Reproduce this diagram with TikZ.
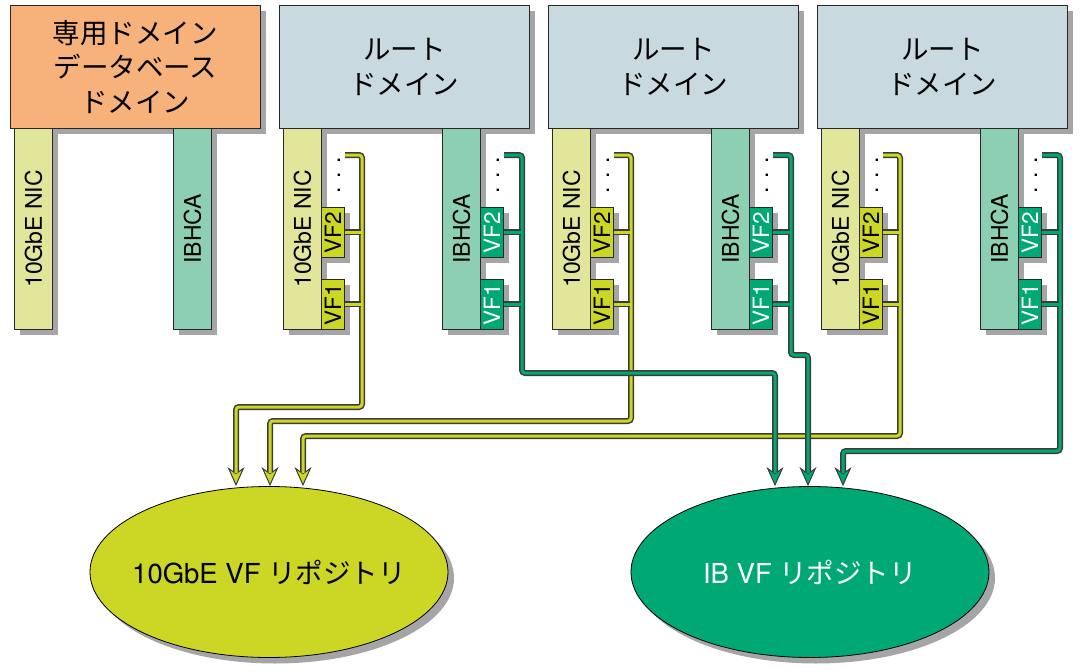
\documentclass[tikz,border=0pt]{standalone}
\usepackage{fontspec}
\setmainfont{TeX Gyre Heros}
\newfontfamily\jpfont{Noto Sans CJK JP}
\usetikzlibrary{arrows.meta,shapes.geometric,shadows}

\definecolor{edge}{RGB}{40,40,40}
\definecolor{shade}{RGB}{165,165,167}
\definecolor{ownfill}{RGB}{246,178,122}
\definecolor{rootfill}{RGB}{201,217,224}
\definecolor{nicfill}{RGB}{225,230,155}
\definecolor{hcafill}{RGB}{140,207,178}
\definecolor{vfy}{RGB}{204,214,36}
\definecolor{vfg}{RGB}{0,168,116}
\definecolor{linedark}{RGB}{60,60,60}

\tikzset{
  box/.style={draw=edge, line width=0.8pt, inner sep=0pt, anchor=north west,
    drop shadow={shadow xshift=6pt, shadow yshift=-6pt, fill=shade, opacity=1}},
  dombox/.style={box, minimum width=250pt, minimum height=123pt, align=center,
    font=\jpfont\fontsize{27.5}{34.5}\selectfont},
  bar/.style={box, minimum width=38pt, minimum height=201pt,
    font=\fontsize{23}{23}\selectfont},
  vfbox/.style={box, minimum width=23pt, minimum height=50pt,
    font=\fontsize{22.5}{22.5}\selectfont},
  dots/.style={rotate=90, inner sep=0pt, font=\fontsize{23}{23}\selectfont},
  repo/.style={ellipse, draw=black, line width=0.8pt, inner sep=0pt,
    minimum width=358pt, minimum height=171pt, font=\fontsize{27.5}{27.5}\selectfont,
    drop shadow={shadow xshift=6pt, shadow yshift=-6pt, fill=shade, opacity=1}},
  link/.style={draw=#1, line width=3pt, rounded corners=3pt, shorten >=13pt,
    preaction={draw=linedark, line width=6pt, shorten >=0pt,
      -{Stealth[length=19pt, width=17pt, inset=6pt, line width=1pt, fill=#1]}}},
  stub/.style={draw=#1, line width=3pt,
    preaction={draw=linedark, line width=6pt}}
}

\begin{document}
\begin{tikzpicture}[x=1pt, y=-1pt]
    \useasboundingbox (0,0) rectangle (1080,672);

    % Dominio dedicado
    \node[dombox, fill=ownfill] (dom0) at (10,5) {専用ドメイン\\データベース\\ドメイン};
    \node[bar, fill=nicfill] (nic0) at (14,128) {\rotatebox{90}{10GbE NIC}};
    \node[bar, fill=hcafill] (hca0) at (173,128) {\rotatebox{90}{IBHCA}};

    % Dominios raiz
    \foreach \i/\L in {1/279, 2/548, 3/817} {
        \node[dombox, fill=rootfill] (dom\i) at (\L,5) {ルート\\ドメイン};
        \node[bar, fill=nicfill] (nic\i) at (\L+4,128) {\rotatebox{90}{10GbE NIC}};
        \node[vfbox, fill=vfy] (nvf2\i) at (\L+42,207) {\rotatebox{90}{VF2}};
        \node[vfbox, fill=vfy] (nvf1\i) at (\L+42,279) {\rotatebox{90}{VF1}};
        \node[dots] (ndot\i) at (\L+60,175) {. . .};
        \node[bar, fill=hcafill] (hca\i) at (\L+163,128) {\rotatebox{90}{IBHCA}};
        \node[vfbox, fill=vfg, text=white] (hvf2\i) at (\L+201,207) {\rotatebox{90}{VF2}};
        \node[vfbox, fill=vfg, text=white] (hvf1\i) at (\L+201,279) {\rotatebox{90}{VF1}};
        \node[dots] (hdot\i) at (\L+219,175) {. . .};
        \coordinate (ny\i) at (\L+66,155);
        \coordinate (yb\i) at (\L+83,155);
        \coordinate (ng\i) at (\L+225,155);
        \coordinate (gb\i) at (\L+243,155);
    }

    % Repositorios
    \node[repo, fill=vfy] (r10) at (269,572) {\makebox[0pt]{10GbE VF {\jpfont リポジトリ}}};
    \node[repo, fill=vfg, text=white] (rib) at (810,572) {\makebox[0pt]{IB VF {\jpfont リポジトリ}}};

    % Enlaces 10GbE
    \foreach \i/\yy/\yx in {1/407/236, 2/421/270, 3/436/303} {
        \draw[link=vfy] (ny\i) -- (yb\i) |- (\yx,\yy) -- (\yx,0 |- r10.north);
        \draw[stub=vfy] (nvf2\i.east) -- ([xshift=-1.5pt]nvf2\i.east -| yb\i);
        \draw[stub=vfy] (nvf1\i.east) -- ([xshift=-1.5pt]nvf1\i.east -| yb\i);
    }

    % Enlaces IB
    \foreach \i/\gy/\gx in {1/373/775, 2/355/808, 3/451/843} {
        \draw[link=vfg] (ng\i) -- (gb\i) |- (\gx,\gy) -- (\gx,0 |- rib.north);
        \draw[stub=vfg] (hvf2\i.east) -- ([xshift=-1.5pt]hvf2\i.east -| gb\i);
        \draw[stub=vfg] (hvf1\i.east) -- ([xshift=-1.5pt]hvf1\i.east -| gb\i);
    }
\end{tikzpicture}
\end{document}
